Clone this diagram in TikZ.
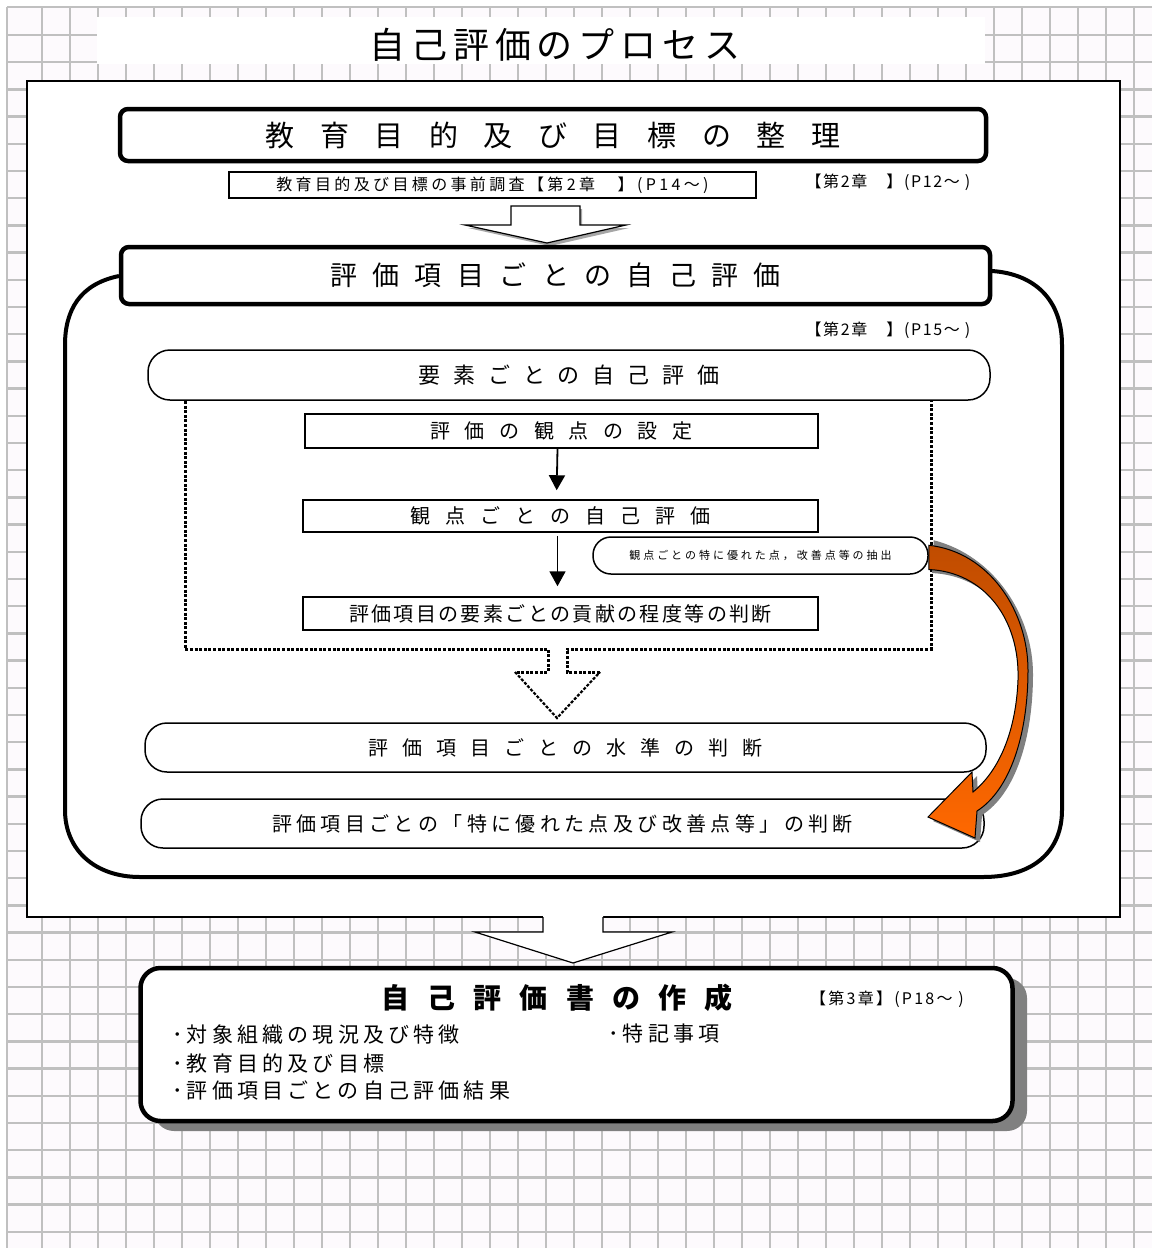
\documentclass[tikz,border=0pt]{standalone}
\usepackage{fontspec}
\setmainfont{Noto Sans CJK JP}
\usetikzlibrary{arrows.meta}
\definecolor{gridc}{RGB}{192,192,192}
\definecolor{bgc}{RGB}{253,250,253}
\definecolor{orD}{RGB}{192,76,0}
\definecolor{orL}{RGB}{255,104,0}
\definecolor{shad}{RGB}{128,128,128}
\newcommand{\jt}[3]{{\fontsize{#1}{#1}\selectfont\addfontfeature{LetterSpace=#2}#3}}
\begin{document}
\begin{tikzpicture}[x=1pt,y=-1pt,
  thickbox/.style={draw=black, line width=4.5pt, fill=white, rounded corners=8pt, inner sep=0pt},
  thinbox/.style={draw=black, line width=1.5pt, fill=white, inner sep=0pt},
  roundbox/.style={draw=black, line width=1.5pt, fill=white, rounded corners=22pt, inner sep=0pt},
  lbl/.style={inner sep=0pt},
  arr/.style={line width=1.8pt, -{Triangle[width=16pt,length=15pt]}},
  dotfr/.style={line width=3pt, dash pattern=on 3pt off 1.6pt},
  gridl/.style={gridc, line width=2.5pt}]
\useasboundingbox (0,0) rectangle (1152,1248);
\fill[white] (0,0) rectangle (1152,1248);
% background grid
\fill[bgc] (7,7) rectangle (1152,1248);
\draw[gridl] (7,7) -- (7,1248);
\draw[gridl] (7,7) -- (1152,7);
\foreach \i in {0,...,39} \draw[gridl] ({42+28*\i},7) -- ({42+28*\i},1248);
\foreach \j in {0,...,44} \draw[gridl] (7,{35+27.2*\j}) -- (1152,{35+27.2*\j});
% title
\fill[white] (97,17) rectangle (985,64);
\node[lbl] (title) at (555,45) {\jt{36}{16}{自己評価のプロセス}};
% main panel
\draw[fill=white, line width=1.5pt] (27,81) rectangle (1120,917);
% box 1
\node[thickbox, minimum width=866pt, minimum height=52pt] (b1) at (553,135) {\jt{29}{88}{教育目的及び目標の整理}};
\node[thinbox, line width=1.3pt, minimum width=527pt, minimum height=26pt] (b1s) at (492.5,185) {\jt{16}{21}{教育目的及び目標の事前調査【第2章　】(P14～)}};
\node[lbl] (lab1) at (888,182) {\jt{16}{10}{【第2章　】(P12～ )}};
% block arrow 1
\fill[shad!70] (513,209) -- (582,209) -- (582,228) -- (629,228) -- (550,246) -- (468,228) -- (513,228) -- cycle;
\filldraw[fill=white, draw=black, line width=1.2pt] (511,206) -- (580,206) -- (580,225) -- (626,225) -- (547,243) -- (465,225) -- (511,225) -- cycle;
% container
\draw[line width=4pt, fill=white] (119,276) .. controls (80,284) and (65,310) .. (65,345) -- (65,810) .. controls (65,850) and (95,877) .. (140,877) -- (983,877) .. controls (1035,877) and (1062,850) .. (1062,810) -- (1062,345) .. controls (1062,300) and (1035,274) .. (992,271);
% box 2
\node[thickbox, minimum width=869pt, minimum height=57pt] (b2) at (555.5,275.5) {\jt{27}{57}{評価項目ごとの自己評価}};
\node[lbl] (lab2) at (888,330) {\jt{16}{10}{【第2章　】(P15～ )}};
% element box
\node[roundbox, minimum width=842pt, minimum height=50pt] (b3) at (569,375) {\jt{22}{59}{要素ごとの自己評価}};
% dotted frame with hollow arrow
\draw[dotfr] (185,401) -- (185,649) -- (548,649) -- (548,672) -- (515,672);
\draw[dotfr, line width=2.2pt] (515,672) -- (557,718) -- (600,672);
\draw[dotfr] (600,672) -- (567,672) -- (567,649) -- (931,649) -- (931,401);
% inner boxes
\node[thinbox, minimum width=513pt, minimum height=34pt] (b4) at (561.5,431) {\jt{20}{73}{評価の観点の設定}};
\node[thinbox, minimum width=515pt, minimum height=32pt] (b5) at (560.5,516) {\jt{20}{75}{観点ごとの自己評価}};
\node[thinbox, minimum width=515pt, minimum height=33pt] (b6) at (560.5,613.5) {\jt{20}{12}{評価項目の要素ごとの貢献の程度等の判断}};
\node[thinbox, rounded corners=18pt, minimum width=335pt, minimum height=37pt] (pill) at (760.5,555.5) {\jt{11}{27}{観点ごとの特に優れた点，改善点等の抽出}};
\draw[arr, shorten >=9pt] ([xshift=-4pt]b4.south) -- ([xshift=-4pt]b5.north);
\draw[arr, shorten <=3pt, shorten >=10pt] ([xshift=-3pt]b5.south) -- ([xshift=-3pt]b6.north);
% lower boxes
\node[roundbox, minimum width=841pt, minimum height=49pt] (b7) at (565.5,747.5) {\jt{20}{70}{評価項目ごとの水準の判断}};
\node[roundbox, minimum width=843pt, minimum height=49pt] (b8) at (562.5,823.5) {\jt{20}{22}{評価項目ごとの「特に優れた点及び改善点等」の判断}};
% orange curved arrow
\fill[shad] ([shift={(5,4)}]pill.north east) .. controls (995,556) and (1033,616) .. (1033,674) .. controls (1033,739) and (1015,794) .. (982,815) -- (980,842) -- (933,821) -- (977,776) -- (978,796) .. controls (1005,774) and (1021,734) .. (1023,684) .. controls (1025,624) and (990,576) .. (932,573) -- cycle;
\shade[top color=orD, bottom color=orL, draw=black, line width=1pt] ([yshift=-9pt]pill.north east) .. controls (990,552) and (1028,612) .. (1028,670) .. controls (1028,735) and (1010,790) .. (977,811) -- (975,838) -- (928,817) -- (972,772) -- (973,792) .. controls (1000,770) and (1016,730) .. (1018,680) .. controls (1020,620) and (985,572) .. ([yshift=-14pt]pill.east) -- cycle;
% block arrow 2
\fill[white] (543,916) -- (543,932) -- (475,932) -- (573,963) -- (672,932) -- (603,932) -- (603,916) -- cycle;
\draw[line width=1.2pt] (543,917) -- (543,932) -- (475,932) -- (573,963) -- (672,932) -- (603,932) -- (603,917);
% final box
\fill[shad, rounded corners=20pt] (154,978) rectangle (1027,1131);
\node[thickbox, rounded corners=20pt, minimum width=872pt, minimum height=153pt] (b9) at (576.5,1044.5) {};
\node[lbl, font=\bfseries] (b9t) at (557,998) {\jt{28}{65}{自己評価書の作成}};
\node[lbl] (lab3) at (887,999) {\jt{16}{14}{【第3章】(P18～ )}};
\node[lbl, anchor=west] (i1) at (172,1035) {\jt{21}{20}{･対象組織の現況及び特徴}};
\node[lbl, anchor=west] (i2) at (172,1063) {\jt{21}{20}{･教育目的及び目標}};
\node[lbl, anchor=west] (i3) at (172,1090) {\jt{21}{20}{･評価項目ごとの自己評価結果}};
\node[lbl, anchor=west] (i4) at (608,1034) {\jt{21}{20}{･特記事項}};
\end{tikzpicture}
\end{document}
